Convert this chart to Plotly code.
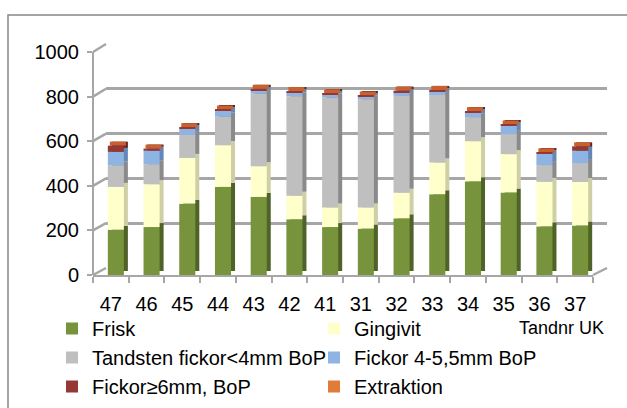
import plotly.graph_objects as go

# Teeth in the lower jaw (UK), left to right
teeth = ["47", "46", "45", "44", "43", "42", "41", "31", "32", "33", "34", "35", "36", "37"]

frisk      = [203, 215, 320, 395, 350, 250, 215, 208, 254, 362, 420, 370, 218, 222]
gingivit   = [192, 192, 205, 187, 138, 105,  88,  95, 115, 142, 180, 172, 200, 195]
tandsten   = [ 97,  90, 103, 128, 325, 447, 493, 485, 434, 303, 108,  90,  75,  85]
fickor_45  = [ 60,  60,  30,  27,  15,  15,  12,  12,  17,  18,  22,  38,  50,  55]
fickor_6   = [ 28,  10,   5,   5,   7,   8,   7,   5,   7,   5,   5,   5,   7,  20]
extraktion = [  0,   0,   0,   0,   0,   0,   0,   0,   0,   0,   0,   0,   0,   0]

series_names = ["Frisk", "Gingivit", "Tandsten fickor<4mm BoP",
                "Fickor 4-5,5mm BoP", "Fickor≥6mm, BoP", "Extraktion"]
series_values = [frisk, gingivit, tandsten, fickor_45, fickor_6, extraktion]
front_colors = ["#77933C", "#FFFFCC", "#BFBFBF", "#8EB4E3", "#953735", "#E07B39"]
side_colors  = ["#4F6228", "#CFCFA6", "#8A8A8A", "#6388B8", "#642422", "#A85A26"]
top_color = "#C8612E"

y_ticks = [0, 200, 400, 600, 800, 1000]

# ---- geometry (pixels in a 627 x 408 canvas) ----
W_PX, H_PX = 627, 408
FONT = "Liberation Sans, Arial, sans-serif"
GRID = "#A6A6A6"

def px(x):
    return x / W_PX

def py(y):
    return 1 - y / H_PX

front_dom = [py(275), py(52)]      # value axis in front of the bars
back_dom = [py(268), py(44)]       # back wall carrying the gridlines
bar_xdom = [px(98), px(598)]
floor_xdom = [px(93), px(593)]
back_xdom = [px(106), px(607)]

BAR_W = 0.45                        # bar width in category units
cat_px = (bar_xdom[1] - bar_xdom[0]) * W_PX / len(teeth)
val_px = (front_dom[1] - front_dom[0]) * H_PX / 1000.0
SIDE_DX = 4 / cat_px               # depth of the side face (category units)
SIDE_DY = 4 / val_px               # depth of the top face (value units)

fig = go.Figure()

# invisible anchors so every subplot is laid out
fig.add_trace(go.Scatter(x=[0, 1], y=[0, 0], mode="markers", marker=dict(opacity=0),
                         xaxis="x", yaxis="y", showlegend=False, hoverinfo="skip"))
fig.add_trace(go.Scatter(x=teeth, y=[0] * len(teeth), mode="markers", marker=dict(opacity=0),
                         xaxis="x3", yaxis="y2", showlegend=False, hoverinfo="skip"))

# stacking bases
bases = []
running = [0] * len(teeth)
for vals in series_values:
    bases.append(list(running))
    running = [r + v for r, v in zip(running, vals)]
totals = running

# side faces (shifted back-right), drawn first
for vals, base, col in zip(series_values, bases, side_colors):
    fig.add_trace(go.Bar(
        x=teeth, y=vals, base=[b + SIDE_DY for b in base],
        width=BAR_W, offset=-BAR_W / 2 + SIDE_DX,
        marker=dict(color=col, line=dict(width=0)),
        xaxis="x2", yaxis="y2", showlegend=False, hoverinfo="skip"))

# top face of each stack (the Extraktion layer sits on top)
fig.add_trace(go.Bar(
    x=teeth, y=[SIDE_DY] * len(teeth), base=totals,
    width=BAR_W, offset=-BAR_W / 2 + SIDE_DX / 2,
    marker=dict(color=top_color, line=dict(width=0)),
    xaxis="x2", yaxis="y2", showlegend=False, hoverinfo="skip"))

# front faces
for name, vals, base, col in zip(series_names, series_values, bases, front_colors):
    fig.add_trace(go.Bar(
        x=teeth, y=vals, base=base, name=name,
        width=BAR_W, offset=-BAR_W / 2,
        marker=dict(color=col, line=dict(width=0)),
        xaxis="x2", yaxis="y2"))

# diagonal connectors between the front value axis and the back wall
shapes = []
for v in y_ticks:
    yf = front_dom[0] + v / 1000 * (front_dom[1] - front_dom[0])
    yb = back_dom[0] + v / 1000 * (back_dom[1] - back_dom[0])
    shapes.append(dict(type="line", xref="paper", yref="paper",
                       x0=floor_xdom[0], y0=yf, x1=back_xdom[0], y1=yb,
                       line=dict(color=GRID, width=2.5)))
# right edge of the floor
shapes.append(dict(type="line", xref="paper", yref="paper",
                   x0=floor_xdom[1], y0=front_dom[0], x1=back_xdom[1], y1=back_dom[0],
                   line=dict(color=GRID, width=2.5)))
# chart frame
shapes.append(dict(type="rect", xref="paper", yref="paper",
                   x0=px(8), y0=-0.02, x1=1.02, y1=py(15),
                   line=dict(color="#868686", width=1.5), layer="below"))

fig.update_layout(
    width=W_PX, height=H_PX,
    margin=dict(l=0, r=0, t=0, b=0, pad=0, autoexpand=False),
    paper_bgcolor="white", plot_bgcolor="rgba(0,0,0,0)",
    barmode="overlay",
    font=dict(family=FONT, size=20, color="#000000"),
    shapes=shapes,
    # back wall with gridlines
    xaxis=dict(domain=back_xdom, anchor="y", range=[0, 1], visible=False),
    yaxis=dict(domain=back_dom, anchor="x", range=[0, 1000], tickvals=y_ticks,
               showgrid=True, gridcolor=GRID, gridwidth=2.5, showticklabels=False,
               ticks="", zeroline=False, showline=False),
    # bars
    xaxis2=dict(domain=bar_xdom, anchor="y2", type="category", categoryorder="array",
                categoryarray=teeth, range=[-0.5, len(teeth) - 0.5],
                showticklabels=False, ticks="", showgrid=False, zeroline=False, showline=False),
    yaxis2=dict(domain=front_dom, anchor="free", position=floor_xdom[0], range=[0, 1000],
                tickvals=y_ticks, ticks="outside", ticklen=5, tickwidth=2, tickcolor=GRID,
                showline=True, linecolor=GRID, linewidth=2, showgrid=False, zeroline=False,
                tickfont=dict(size=20), ticklabelstandoff=4),
    # front edge of the floor with the tooth numbers
    xaxis3=dict(domain=floor_xdom, anchor="y2", type="category", categoryorder="array",
                categoryarray=teeth, range=[-0.5, len(teeth) - 0.5],
                tickson="boundaries", ticks="outside", ticklen=6, tickwidth=2, tickcolor=GRID,
                showline=True, linecolor=GRID, linewidth=2, showgrid=False, zeroline=False,
                tickfont=dict(size=20), ticklabelstandoff=10),
    legend=dict(orientation="h", x=px(52), xanchor="left", y=py(309), yanchor="top",
                entrywidth=217, entrywidthmode="pixels", traceorder="normal",
                font=dict(size=20), bgcolor="rgba(0,0,0,0)", borderwidth=0),
    annotations=[dict(text="Tandnr UK", xref="paper", yref="paper",
                      x=px(561), y=py(328), xanchor="center", yanchor="middle",
                      showarrow=False,
                      font=dict(family=FONT, size=18, color="#000000"))],
    hovermode=False,
)

fig.write_html("out.html")
